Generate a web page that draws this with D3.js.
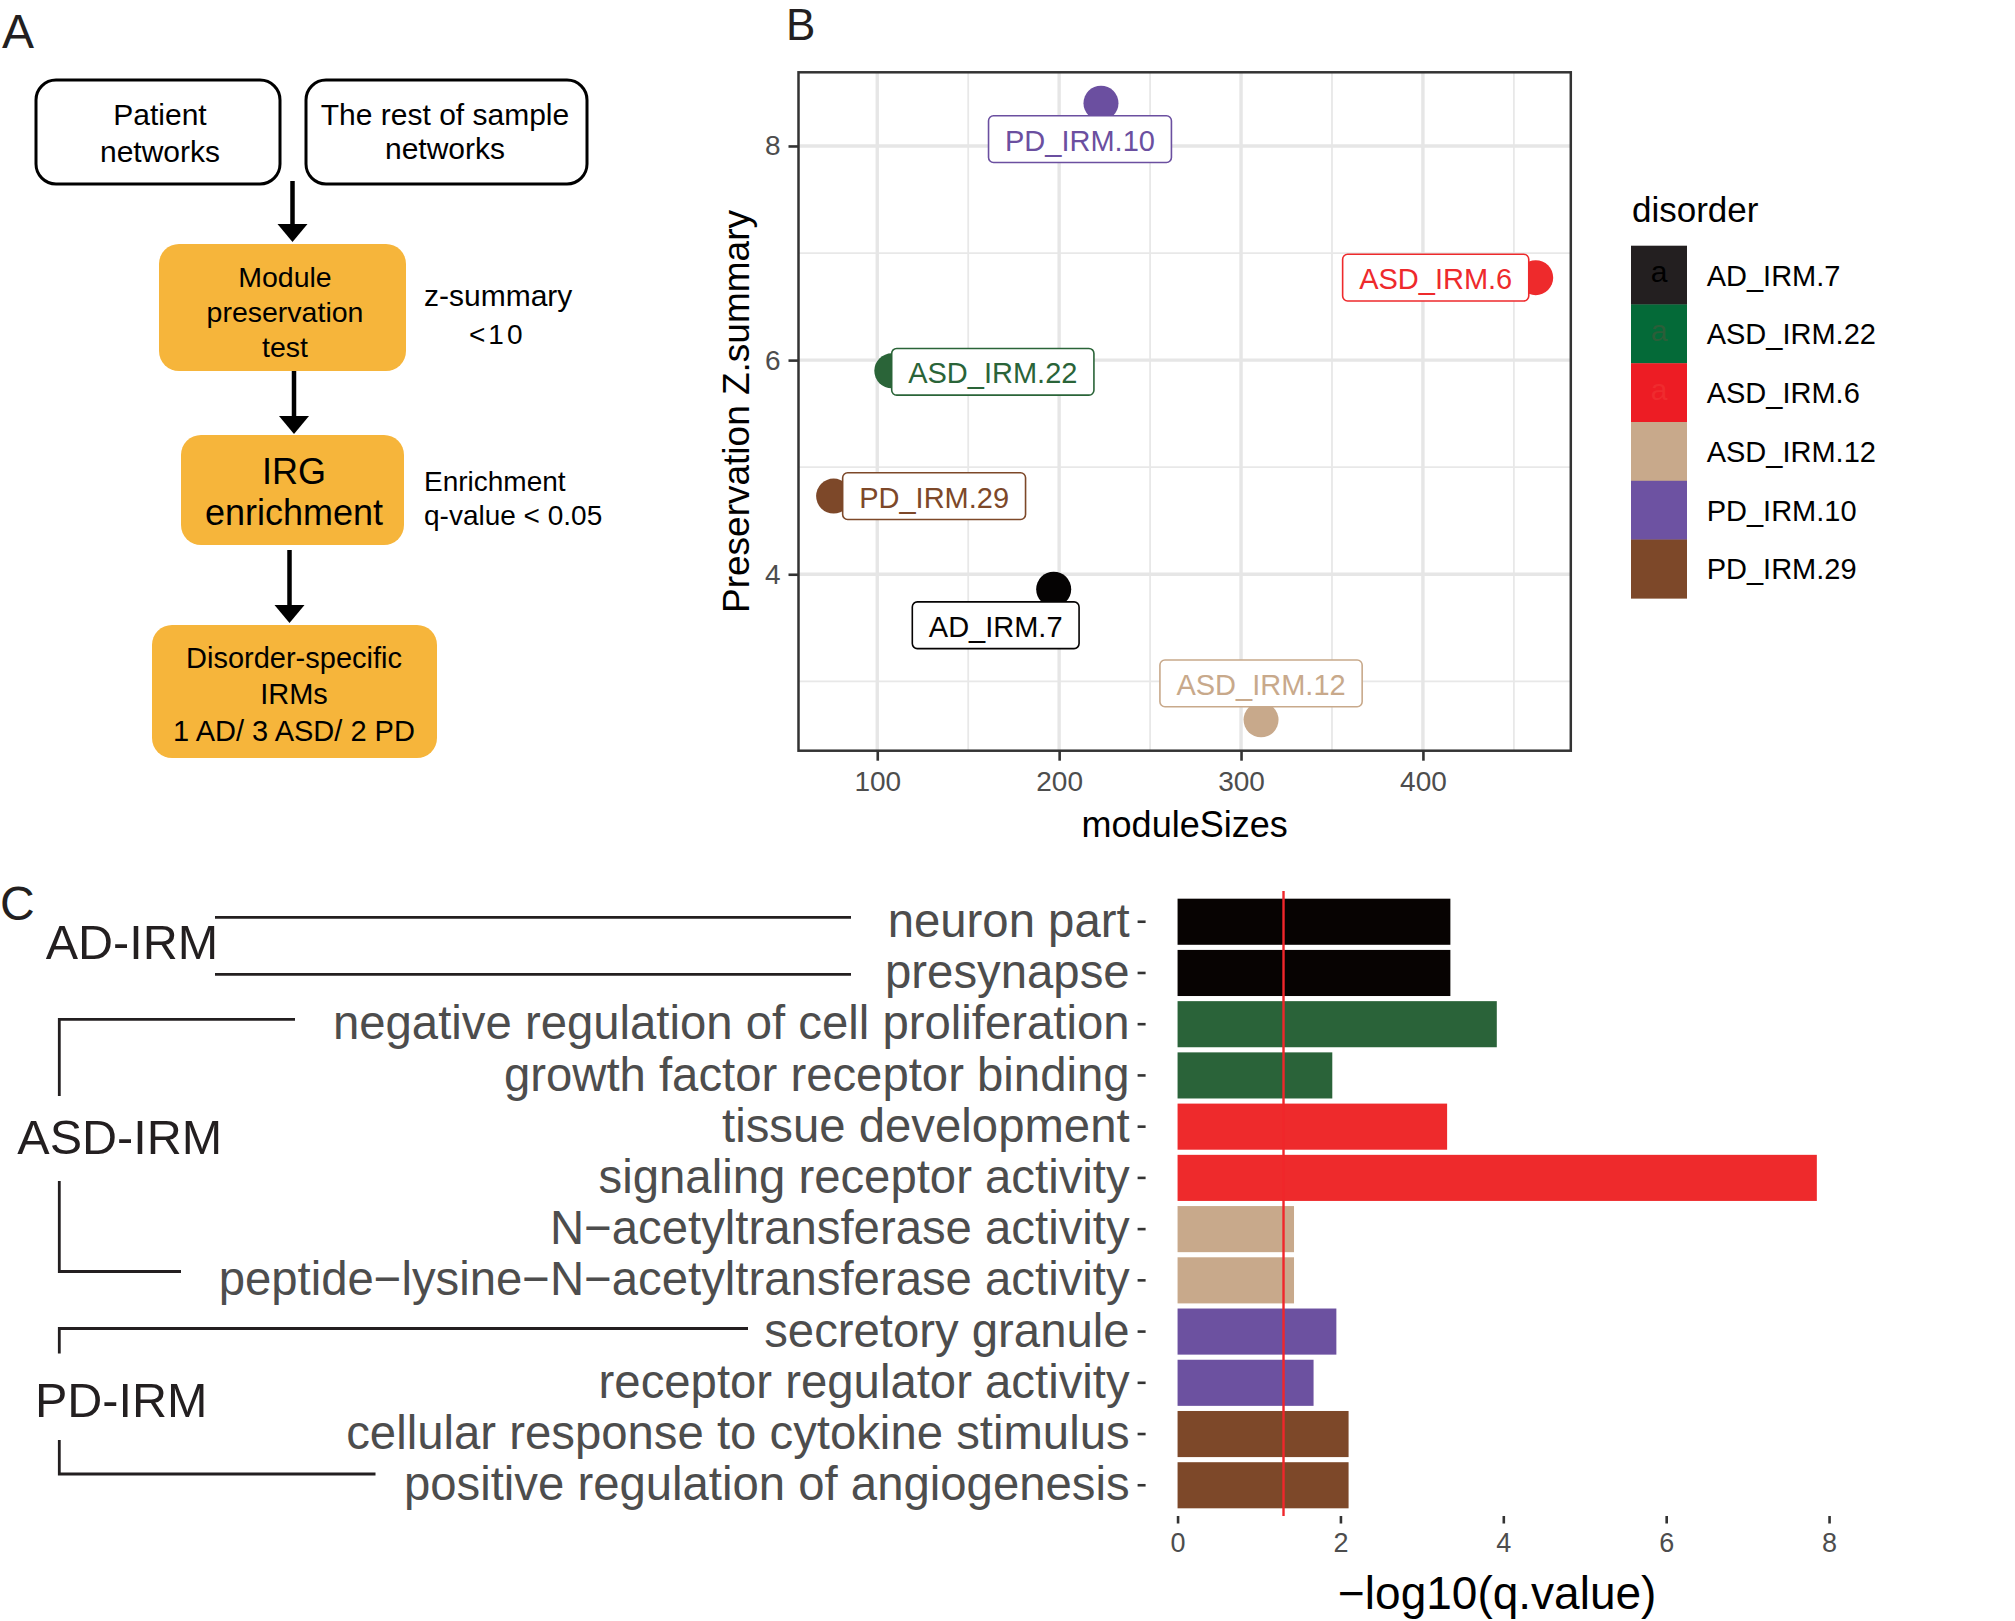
<!DOCTYPE html>
<html><head><meta charset="utf-8">
<script src="https://cdn.jsdelivr.net/npm/d3@7"></script>
<style>
body{margin:0;background:#fff}
svg{display:block}
text{font-family:"Liberation Sans",Arial,Helvetica,sans-serif}
</style>
</head><body>
<svg id="chart" width="2015" height="1621"></svg>
<script>
// ---------------- DATA ----------------
const modules      = ["AD_IRM.7","ASD_IRM.22","ASD_IRM.6","ASD_IRM.12","PD_IRM.10","PD_IRM.29"];
const moduleSizes  = [197, 108, 462, 311, 223, 76];
const zSummary     = [3.86, 5.90, 6.77, 2.64, 8.40, 4.73];
const pointColors  = ["#050303","#2a6438","#ee2a2c","#c8a98b","#6b4fa0","#7d4829"];
const keyColors    = ["#231f20","#046a38","#ed1c24","#c8a98b","#6d52a2","#7d4829"];
const keyLetterColors = ["#000000","#2b5e39","#ef2b2e","#c8a98b","#6d52a2","#7d4829"];

const terms = [
  "neuron part","presynapse","negative regulation of cell proliferation",
  "growth factor receptor binding","tissue development","signaling receptor activity",
  "N\u2212acetyltransferase activity","peptide\u2212lysine\u2212N\u2212acetyltransferase activity",
  "secretory granule","receptor regulator activity",
  "cellular response to cytokine stimulus","positive regulation of angiogenesis"];
const termModule = ["AD_IRM.7","AD_IRM.7","ASD_IRM.22","ASD_IRM.22","ASD_IRM.6","ASD_IRM.6",
  "ASD_IRM.12","ASD_IRM.12","PD_IRM.10","PD_IRM.10","PD_IRM.29","PD_IRM.29"];
const negLog10Q = [3.35, 3.35, 3.92, 1.90, 3.31, 7.85, 1.43, 1.43, 1.95, 1.67, 2.10, 2.10];
const barColors = ["#070302","#2a6339","#ee2a2c","#c8a98b","#6c51a0","#7d4829"];
const qThreshold = 0.05;

const xTicksB = [100, 200, 300, 400];
const yTicksB = [4, 6, 8];
const xMinorB = [50, 150, 250, 350, 450];
const yMinorB = [3, 5, 7];
const xTicksC = [0, 2, 4, 6, 8];

// ---------------- LAYOUT ----------------
const svg = d3.select("#chart");
const FONT = '"Liberation Sans",Arial,Helvetica,sans-serif';

// Panel letters
[["A",2,48,48],["B",786,40,44],["C",0,920,48]].forEach(([t,x,y,fs])=>{
  svg.append("text").attr("x",x).attr("y",y).attr("font-size",fs).attr("fill","#231f20").text(t);
});

// ---------------- PANEL A (flowchart) ----------------
const A = svg.append("g");
const boxes = [
  {x:36,y:80,w:244,h:104,fill:"#fff",stroke:"#000",lines:[["Patient",125],["networks",162]],cx:160,fs:30},
  {x:306,y:80,w:281,h:104,fill:"#fff",stroke:"#000",lines:[["The rest of sample",125],["networks",159]],cx:445,fs:30},
  {x:159,y:244,w:247,h:127,fill:"#f6b53b",stroke:"none",lines:[["Module",287],["preservation",322],["test",357]],cx:285,fs:28.5},
  {x:181,y:435,w:223,h:110,fill:"#f6b53b",stroke:"none",lines:[["IRG",484],["enrichment",525]],cx:294,fs:36},
  {x:152,y:625,w:285,h:133,fill:"#f6b53b",stroke:"none",lines:[["Disorder-specific",668],["IRMs",704],["1 AD/ 3 ASD/ 2 PD",741]],cx:294,fs:29}
];
boxes.forEach(b=>{
  A.append("rect").attr("x",b.x).attr("y",b.y).attr("width",b.w).attr("height",b.h)
    .attr("rx",20).attr("ry",20).attr("fill",b.fill)
    .attr("stroke",b.stroke).attr("stroke-width",3);
  b.lines.forEach(([t,y])=>{
    A.append("text").attr("x",b.cx).attr("y",y).attr("text-anchor","middle")
      .attr("font-size",b.fs).attr("fill","#000").text(t);
  });
});
const arrows = [[292.5,181,242],[294,371,434],[289.5,550,623]];
arrows.forEach(([x,y0,y1])=>{
  A.append("line").attr("x1",x).attr("x2",x).attr("y1",y0).attr("y2",y1-16)
    .attr("stroke","#000").attr("stroke-width",4.5);
  A.append("path").attr("d",`M${x-15},${y1-18}L${x+15},${y1-18}L${x},${y1}Z`).attr("fill","#000");
});
[["z-summary",424,306,30,0],["<10",469,344,28,3],["Enrichment",424,491,28,0],["q-value < 0.05",424,524.5,28,0]]
 .forEach(([t,x,y,fs,ls])=>{
  A.append("text").attr("x",x).attr("y",y).attr("font-size",fs).attr("letter-spacing",ls)
    .attr("fill","#000").text(t);
});

// ---------------- PANEL B (scatter) ----------------
const pB = {left:798.5, top:72.3, right:1570.8, bottom:750.7};
const xExt = d3.extent(moduleSizes), yExt = d3.extent(zSummary);
const xPad = (xExt[1]-xExt[0])*0.05, yPad = (yExt[1]-yExt[0])*0.05;
const xB = d3.scaleLinear().domain([xExt[0]-xPad, xExt[1]+xPad]).range([pB.left, pB.right]);
const yB = d3.scaleLinear().domain([yExt[0]-yPad, yExt[1]+yPad]).range([pB.bottom, pB.top]);
const B = svg.append("g");
B.append("rect").attr("x",pB.left).attr("y",pB.top).attr("width",pB.right-pB.left)
  .attr("height",pB.bottom-pB.top).attr("fill","#fff");
const grid = B.append("g");
xMinorB.filter(v=>xB(v)>pB.left && xB(v)<pB.right).forEach(v=>{
  grid.append("line").attr("x1",xB(v)).attr("x2",xB(v)).attr("y1",pB.top).attr("y2",pB.bottom)
    .attr("stroke","#e8e8e8").attr("stroke-width",1.8);
});
yMinorB.forEach(v=>{
  grid.append("line").attr("y1",yB(v)).attr("y2",yB(v)).attr("x1",pB.left).attr("x2",pB.right)
    .attr("stroke","#e8e8e8").attr("stroke-width",1.8);
});
xTicksB.forEach(v=>{
  grid.append("line").attr("x1",xB(v)).attr("x2",xB(v)).attr("y1",pB.top).attr("y2",pB.bottom)
    .attr("stroke","#e6e6e6").attr("stroke-width",3.4);
});
yTicksB.forEach(v=>{
  grid.append("line").attr("y1",yB(v)).attr("y2",yB(v)).attr("x1",pB.left).attr("x2",pB.right)
    .attr("stroke","#e6e6e6").attr("stroke-width",3.4);
});

const pts = modules.map((m,i)=>({m, x:moduleSizes[i], y:zSummary[i], c:pointColors[i]}));
B.selectAll("circle.pt").data(pts).join("circle").attr("class","pt")
  .attr("cx",d=>xB(d.x)).attr("cy",d=>yB(d.y)).attr("r",17.5).attr("fill",d=>d.c);

// label repel offsets (pixels from point centre to label centre)
const labelOffsets = {"AD_IRM.7":[-58,36],"ASD_IRM.22":[101,1],"ASD_IRM.6":[-100,0],
  "ASD_IRM.12":[0,-36.5],"PD_IRM.10":[-21,36],"PD_IRM.29":[100.5,0]};
pts.forEach(d=>{
  const [dx,dy] = labelOffsets[d.m];
  const cx = xB(d.x)+dx, cy = yB(d.y)+dy;
  const g = B.append("g");
  const r = g.append("rect");
  const t = g.append("text").attr("x",cx).attr("y",cy+11.5).attr("text-anchor","middle")
    .attr("font-size",29).attr("fill",d.c).text(d.m);
  const w = t.node().getComputedTextLength()+33, h = 46.7;
  r.attr("x",cx-w/2).attr("y",cy-h/2).attr("width",w).attr("height",h).attr("rx",5)
    .attr("fill","#fff").attr("stroke",d.c).attr("stroke-width",1.6);
});
B.append("rect").attr("x",pB.left).attr("y",pB.top).attr("width",pB.right-pB.left)
  .attr("height",pB.bottom-pB.top).attr("fill","none").attr("stroke","#333").attr("stroke-width",2.5);

function styleAxis(g, fs){
  g.select(".domain").remove();
  g.selectAll(".tick line").attr("stroke","#333").attr("stroke-width",2.6);
  g.selectAll(".tick text").attr("font-size",fs).attr("fill","#4d4d4d").attr("font-family",FONT);
}
B.append("g").attr("transform",`translate(0,${pB.bottom})`)
  .call(d3.axisBottom(xB).tickValues(xTicksB).tickFormat(d3.format("d")).tickSize(10).tickPadding(10))
  .call(g=>styleAxis(g,28));
B.append("g").attr("transform",`translate(${pB.left},0)`)
  .call(d3.axisLeft(yB).tickValues(yTicksB).tickFormat(d3.format("d")).tickSize(10).tickPadding(8))
  .call(g=>styleAxis(g,28));
B.append("text").attr("x",(pB.left+pB.right)/2).attr("y",837).attr("text-anchor","middle")
  .attr("font-size",36).attr("fill","#000").text("moduleSizes");
B.append("text").attr("transform",`translate(749,${(pB.top+pB.bottom)/2}) rotate(-90)`)
  .attr("text-anchor","middle").attr("font-size",37).attr("fill","#000").text("Preservation Z.summary");

// legend
const L = svg.append("g");
L.append("text").attr("x",1632).attr("y",221.7).attr("font-size",35).attr("fill","#000").text("disorder");
const keyStep = 58.77, keyTop = 245.7;
modules.forEach((m,i)=>{
  const y = keyTop + i*keyStep;
  L.append("rect").attr("x",1631).attr("y",y).attr("width",56).attr("height",keyStep+0.3).attr("fill",keyColors[i]);
  L.append("text").attr("x",1659).attr("y",y+keyStep/2+7).attr("text-anchor","middle")
    .attr("font-size",30).attr("fill",keyLetterColors[i]).text("a");
  L.append("text").attr("x",1706.7).attr("y",y+keyStep/2+10.5).attr("font-size",29).attr("fill","#000").text(m);
});

// ---------------- PANEL C (bars) ----------------
const pC = {left:1145.6, right:1848.8, top:891, bottom:1516};
const maxV = d3.max(negLog10Q);
const xC = d3.scaleLinear().domain([-0.05*maxV, 1.05*maxV]).range([pC.left, pC.right]);
const yC = d3.scaleBand().domain(terms).range([pC.top, pC.bottom]).paddingInner(0.1).paddingOuter(0.15);
const colorOf = d3.scaleOrdinal().domain(modules).range(barColors);
const C = svg.append("g");
const bars = terms.map((t,i)=>({t, v:negLog10Q[i], m:termModule[i]}));
C.selectAll("rect.bar").data(bars).join("rect").attr("class","bar")
  .attr("x",xC(0)).attr("y",d=>yC(d.t)).attr("width",d=>xC(d.v)-xC(0))
  .attr("height",yC.bandwidth()).attr("fill",d=>colorOf(d.m));
C.append("line").attr("x1",xC(-Math.log10(qThreshold))).attr("x2",xC(-Math.log10(qThreshold)))
  .attr("y1",pC.top).attr("y2",pC.bottom).attr("stroke","#f0262b").attr("stroke-width",2.4);
C.append("g").attr("transform",`translate(0,${pC.bottom})`)
  .call(d3.axisBottom(xC).tickValues(xTicksC).tickFormat(d3.format("d")).tickSize(7.5).tickPadding(9))
  .call(g=>styleAxis(g,27));
C.append("g").attr("transform",`translate(${pC.left},0)`)
  .call(d3.axisLeft(yC).tickSize(8).tickPadding(8))
  .call(g=>styleAxis(g,47.3));
C.append("text").attr("x",(pC.left+pC.right)/2).attr("y",1609).attr("text-anchor","middle")
  .attr("font-size",46).attr("fill","#000").text("\u2212log10(q.value)");

// group labels and brackets
const groupLabels = [["AD-IRM",45.7,959],["ASD-IRM",17.3,1154],["PD-IRM",35,1417]];
groupLabels.forEach(([t,x,y])=>{
  C.append("text").attr("x",x).attr("y",y).attr("font-size",48.5).attr("fill","#231f20").text(t);
});
const brackets = [
  "M215,917.3H851", "M215,974.3H851",
  "M295,1019.3H59.3V1096", "M59.3,1181V1271.5H181",
  "M748,1328.5H59.3V1353.5", "M59.3,1440V1474H375.5"
];
brackets.forEach(d=>{
  C.append("path").attr("d",d).attr("fill","none").attr("stroke","#231f20").attr("stroke-width",2.8);
});
</script>
</body></html>
